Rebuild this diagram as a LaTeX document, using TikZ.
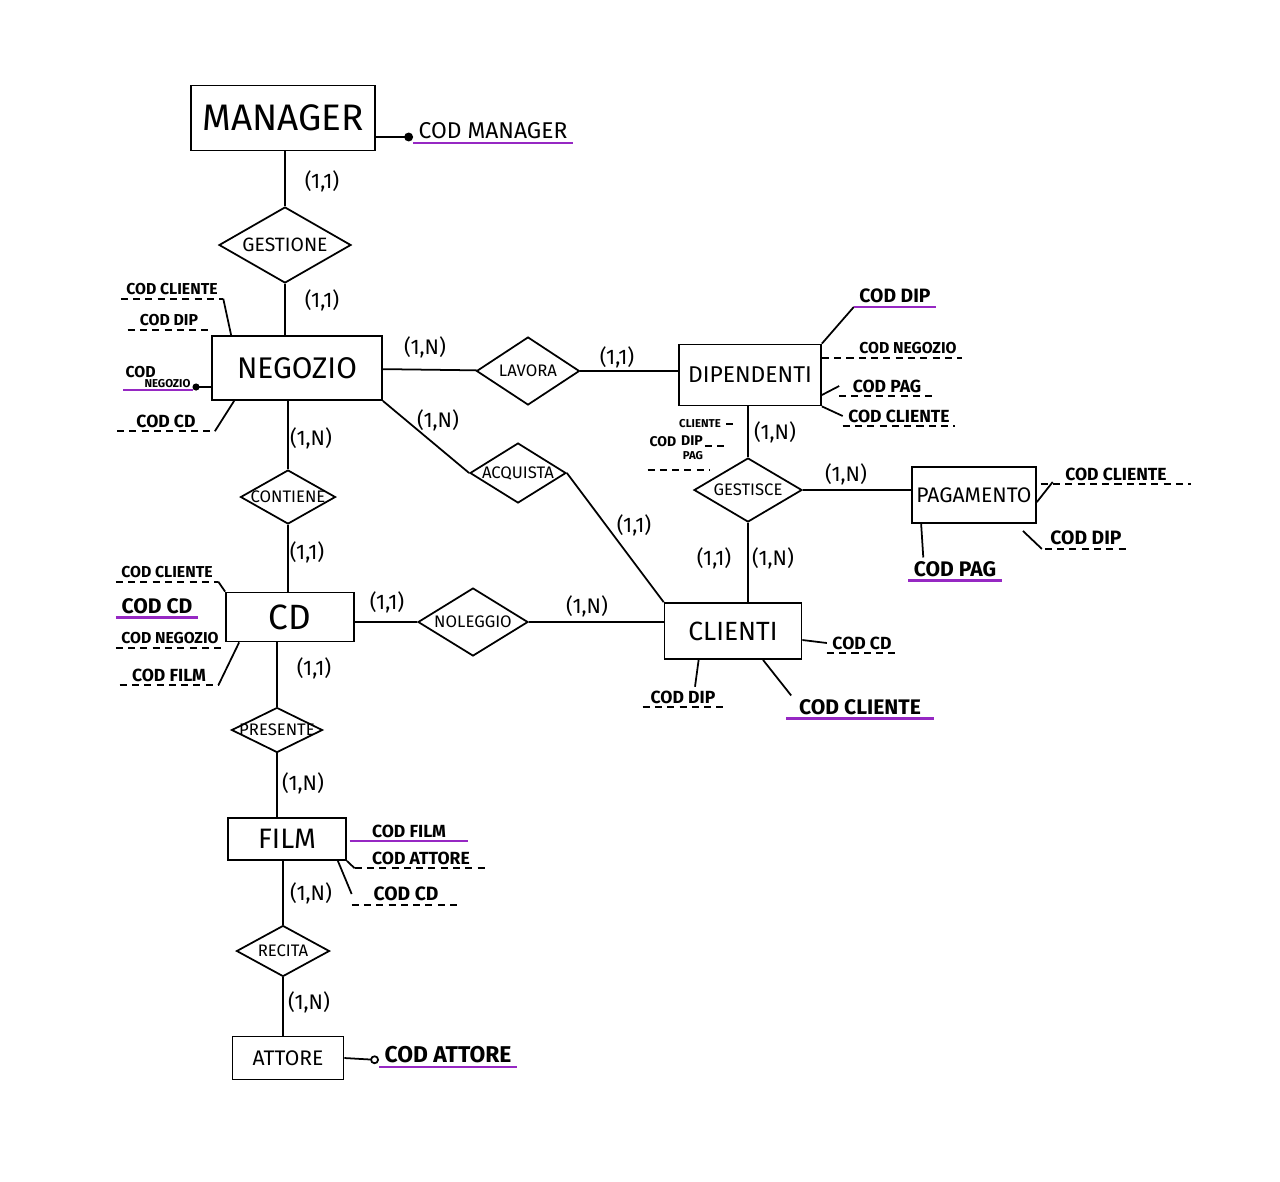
\documentclass[tikz,border=0pt]{standalone}
\usepackage{fontspec}
\setmainfont{Fira Sans}
\usetikzlibrary{shapes.geometric,arrows.meta}
\definecolor{keycol}{RGB}{150,40,195}

\begin{document}
\begin{tikzpicture}
  [x=0.02cm,y=-0.02cm
  ,ent/.style={draw,line width=1pt,inner sep=0pt}
  ,rel/.style={draw,diamond,line width=1pt,inner sep=0pt,
     label={[font=\fontsize{9.5}{9.5}\selectfont]center:#1}}
  ,card/.style={font=\fontsize{12}{12}\selectfont}
  ,attr/.style={font=\bfseries\fontsize{9}{9}\selectfont,inner xsep=3pt,inner ysep=2pt}
  ,link/.style={line width=1pt}
  ,keyline/.style={draw=keycol,line width=1.3pt}
  ,dashline/.style={line width=1pt,dash pattern=on 4pt off 3pt}
  ]
  \path[use as bounding box,fill=white] (0,0) rectangle (1280,1181);

  % entita
  \node[ent,minimum width=3.68cm,minimum height=1.3cm,font=\fontsize{21}{21}\selectfont] (manager) at (283,118) {MANAGER};
  \node[ent,minimum width=3.4cm,minimum height=1.28cm,font=\fontsize{17}{17}\selectfont] (negozio) at (297,368) {NEGOZIO};
  \node[ent,minimum width=2.84cm,minimum height=1.22cm,font=\fontsize{13}{13}\selectfont] (dipendenti) at (750,375) {DIPENDENTI};
  \node[ent,minimum width=2.48cm,minimum height=1.12cm,font=\fontsize{12}{12}\selectfont] (pagamento) at (974,495) {PAGAMENTO};
  \node[ent,minimum width=2.56cm,minimum height=0.98cm,font=\fontsize{20}{20}\selectfont] (cd) at (290,617) {CD};
  \node[ent,minimum width=2.74cm,minimum height=1.12cm,font=\fontsize{15}{15}\selectfont] (clienti) at (733,631) {CLIENTI};
  \node[ent,minimum width=2.36cm,minimum height=0.84cm,font=\fontsize{16}{16}\selectfont] (film) at (287,839) {FILM};
  \node[ent,minimum width=2.22cm,minimum height=0.86cm,font=\fontsize{12}{12}\selectfont] (attore) at (288,1058) {ATTORE};

  % relazioni
  \node[rel={\fontsize{11}{11}\selectfont GESTIONE},minimum width=2.64cm,minimum height=1.52cm] (gestione) at (285,245) {};
  \node[rel=LAVORA,minimum width=2.06cm,minimum height=1.36cm] (lavora) at (528,371) {};
  \node[rel=ACQUISTA,minimum width=1.92cm,minimum height=1.2cm] (acquista) at (518,473) {};
  \node[rel=CONTIENE,minimum width=1.9cm,minimum height=1.08cm] (contiene) at (288,497) {};
  \node[rel=GESTISCE,minimum width=2.16cm,minimum height=1.28cm] (gestisce) at (748,490) {};
  \node[rel=NOLEGGIO,minimum width=2.2cm,minimum height=1.36cm] (noleggio) at (473,622) {};
  \node[rel=PRESENTE,minimum width=1.82cm,minimum height=0.9cm] (presente) at (277,730) {};
  \node[rel=RECITA,minimum width=1.86cm,minimum height=1.02cm] (recita) at (283,951) {};

  % collegamenti
  \draw[link] (gestione) -- (gestione |- manager.south);
  \draw[link] (gestione) -- (gestione |- negozio.north);
  \draw[link] (negozio) -- (lavora);
  \draw[link] (lavora) -- (lavora -| dipendenti.west);
  \draw[link] (negozio.south east) -- (acquista.west);
  \draw[link] (acquista.east) -- (clienti.north west);
  \draw[link] (contiene) -- (contiene |- negozio.south);
  \draw[link] (contiene) -- (contiene |- cd.north);
  \draw[link] (noleggio) -- (noleggio -| cd.east);
  \draw[link] (noleggio) -- (noleggio -| clienti.west);
  \draw[link] (gestisce) -- (gestisce |- dipendenti.south);
  \draw[link] (gestisce) -- (gestisce -| pagamento.west);
  \draw[link] (gestisce) -- (gestisce |- clienti.north);
  \draw[link] (presente) -- (presente |- cd.south);
  \draw[link] (presente) -- (presente |- film.north);
  \draw[link] (recita) -- (recita |- film.south);
  \draw[link] (recita) -- (recita |- attore.north);

  % cardinalita
  \foreach \x/\y/\t [count=\i] in {322/181/{(1,1)},322/300/{(1,1)},425/347/{(1,N)},617/357/{(1,1)},
      438/420/{(1,N)},634/525/{(1,1)},311/438/{(1,N)},307/552/{(1,1)},387/602/{(1,1)},
      587/606/{(1,N)},775/432/{(1,N)},846/474/{(1,N)},714/558/{(1,1)},773/558/{(1,N)},
      314/668/{(1,1)},303/783/{(1,N)},311/893/{(1,N)},309/1002/{(1,N)}}
    \node[card] (card\i) at (\x,\y) {\t};

  % attributi manager
  \node[attr,font=\fontsize{13}{13}\selectfont] (mkey) at (493,131) {COD MANAGER};
  \draw[link,-{Circle[length=5pt]}] ([yshift=-0.38cm]manager.east) -- (mkey.west |- 0,137);

  % attributi negozio
  \node[attr] (ncli) at (172,289) {COD CLIENTE};
  \node[attr,minimum width=1.64cm] (ndip) at (169,320) {COD DIP};
  \node[attr,align=left,inner sep=1pt] (nkey) at (158,377) {COD\\[-3pt]\hspace*{1.2em}{\fontsize{6.5}{6.5}\selectfont NEGOZIO}};
  \node[attr,minimum width=1.94cm,font=\bfseries\fontsize{10}{10}\selectfont] (ncd) at (166,421) {COD CD};
  \draw[link] (ncli.south east) -- ([xshift=0.4cm]negozio.north west);
  \draw[link,-{Circle[length=4pt]}] ([yshift=-0.38cm]negozio.west) -- (nkey.east |- 0,387);
  \draw[link] (ncd.south east) -- ([xshift=0.46cm]negozio.south west);

  % attributi dipendenti
  \node[attr,font=\bfseries\fontsize{11}{11}\selectfont] (dkey) at (895,296) {COD DIP};
  \node[attr] (dneg) at (908,348) {COD NEGOZIO};
  \node[attr,minimum width=1.9cm,font=\bfseries\fontsize{10}{10}\selectfont] (dpag) at (887,386) {COD PAG};
  \node[attr,font=\bfseries\fontsize{10}{10}\selectfont] (dcli) at (899,416) {COD CLIENTE};
  \draw[link] (dipendenti.north east) -- (dkey.south west);
  \draw[dashline] (dipendenti.east |- dneg.south) -- (dneg.south east);
  \draw[link] ([yshift=-0.4cm]dipendenti.east) -- (dpag.west);
  \draw[link] (dipendenti.south east) -- (dcli.west);
  \node[attr,font=\bfseries\fontsize{6.5}{6.5}\selectfont] (scli) at (700,424) {CLIENTE};
  \node[attr,font=\bfseries\fontsize{8}{8}\selectfont,inner sep=1pt] (scod) at (663,442) {COD};
  \node[attr,font=\bfseries\fontsize{8}{8}\selectfont,inner sep=1pt] (sdip) at (692,441) {DIP};
  \node[attr,font=\bfseries\fontsize{6.5}{6.5}\selectfont,inner sep=1pt] (spag) at (693,456) {PAG};
  \draw[dashline] (scli.east) -- ++(10,0);
  \draw[dashline] ([yshift=-0.1cm]sdip.east) -- ++(20,0);
  \draw[dashline] (scod.west |- 0,470) -- ++(62,0);

  % attributi pagamento
  \node[attr,font=\bfseries\fontsize{10}{10}\selectfont,minimum width=3cm] (pcli) at (1116,474) {COD CLIENTE};
  \node[attr,font=\bfseries\fontsize{11}{11}\selectfont] (pdip) at (1086,538) {COD DIP};
  \node[attr,font=\bfseries\fontsize{12}{12}\selectfont] (pkey) at (955,569) {COD PAG};
  \draw[link] ([yshift=-0.14cm]pagamento.east) -- ([xshift=0.24cm,yshift=-0.16cm]pcli.west);
  \draw[link] ([xshift=-0.28cm,yshift=-0.14cm]pagamento.south east) -- ([xshift=-0.06cm]pdip.south west);
  \draw[link] ([xshift=0.2cm]pagamento.south west) -- ([xshift=0.3cm]pkey.north west);

  % attributi cd
  \node[attr] (ccli) at (167,572) {COD CLIENTE};
  \node[attr,font=\bfseries\fontsize{12}{12}\selectfont] (ckey) at (157,606) {COD CD};
  \node[attr,minimum width=1.96cm] (cneg) at (170,638) {COD NEGOZIO};
  \node[attr,minimum width=1.96cm,font=\bfseries\fontsize{10}{10}\selectfont] (cfilm) at (169,675) {COD FILM};
  \draw[link] (ccli.south east) -- (cd.north west);
  \draw[link] (cfilm.south east) -- ([xshift=0.28cm]cd.south west);

  % attributi clienti
  \node[attr,font=\bfseries\fontsize{10}{10}\selectfont] (lcd) at (862,643) {COD CD};
  \node[attr,minimum width=1.6cm,font=\bfseries\fontsize{10}{10}\selectfont] (ldip) at (683,697) {COD DIP};
  \node[attr,minimum width=2.94cm,font=\bfseries\fontsize{12}{12}\selectfont] (lkey) at (860,707) {COD CLIENTE};
  \draw[link] ([yshift=-0.18cm]clienti.east) -- (lcd.west);
  \draw[link] ([xshift=0.7cm]clienti.south west) -- ([xshift=0.24cm]ldip.north);
  \draw[link] ([xshift=0.6cm]clienti.south) -- ([xshift=0.1cm]lkey.north west);

  % attributi film
  \node[attr,minimum width=2.36cm,font=\bfseries\fontsize{10}{10}\selectfont] (fkey) at (409,831) {COD FILM};
  \node[attr,minimum width=2.64cm,font=\bfseries\fontsize{10}{10}\selectfont] (fatt) at (421,858) {COD ATTORE};
  \node[attr,minimum width=2.16cm,font=\bfseries\fontsize{11}{11}\selectfont] (fcd) at (406,894) {COD CD};
  \draw[link] (film.south east) -- (fatt.south west);
  \draw[link] ([xshift=-0.18cm]film.south east) -- (fcd.west);

  % attributi attore
  \node[attr,font=\bfseries\fontsize{13}{13}\selectfont] (akey) at (448,1055) {COD ATTORE};
  \draw[link,-{Circle[open,length=5pt]}] (attore.east) -- (akey.west |- 0,1060);

  % sottolineature
  \foreach \n in {ncli,ndip,ncd,dpag,dcli,pcli,pdip,ccli,cneg,cfilm,lcd,ldip,fatt,fcd}
    \draw[dashline] (\n.south west) -- (\n.south east);
  \foreach \n in {mkey,nkey,dkey,pkey,ckey,lkey,fkey,akey}
    \draw[keyline] (\n.south west) -- (\n.south east);
\end{tikzpicture}
\end{document}
